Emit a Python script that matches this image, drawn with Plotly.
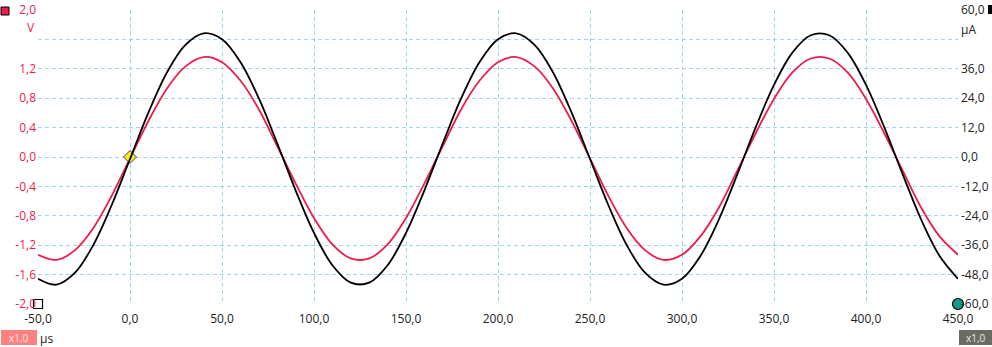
import plotly.graph_objects as go

# time axis (µs)
time_us = [-50, -40, -30, -20, -10, 0, 10, 20, 30, 40, 50, 60, 70, 80, 90, 100,
           110, 120, 130, 140, 150, 160, 170, 180, 190, 200, 210, 220, 230, 240,
           250, 260, 270, 280, 290, 300, 310, 320, 330, 340, 350, 360, 370, 380,
           390, 400, 410, 420, 430, 440, 450]

# voltage channel (V, left axis)
voltage_v = [-1.33, -1.40, -1.27, -0.97, -0.53, -0.02, 0.49, 0.93, 1.23, 1.36,
             1.29, 1.04, 0.65, 0.15, -0.36, -0.83, -1.19, -1.38, -1.38, -1.19,
             -0.83, -0.36, 0.15, 0.65, 1.04, 1.29, 1.36, 1.23, 0.93, 0.49,
             -0.02, -0.53, -0.97, -1.27, -1.40, -1.33, -1.08, -0.69, -0.19, 0.32,
             0.79, 1.15, 1.34, 1.34, 1.15, 0.79, 0.32, -0.19, -0.69, -1.08, -1.33]

# current channel (µA, right axis)
current_ua = [-49.7, -52.1, -47.3, -36.0, -19.7, -0.8, 18.1, 34.4, 45.7, 50.5,
              48.1, 38.8, 24.0, 5.6, -13.6, -31.0, -44.2, -51.3, -51.3, -44.2,
              -31.0, -13.6, 5.6, 24.0, 38.8, 48.1, 50.5, 45.7, 34.4, 18.1,
              -0.8, -19.7, -36.0, -47.3, -52.1, -49.7, -40.4, -25.6, -7.2, 12.0,
              29.4, 42.6, 49.7, 49.7, 42.6, 29.4, 12.0, -7.2, -25.6, -40.4, -49.7]

x_ticks = [-50, 0, 50, 100, 150, 200, 250, 300, 350, 400, 450]
x_labels = ["-50,0", "0,0", "50,0", "100,0", "150,0", "200,0", "250,0",
            "300,0", "350,0", "400,0", "450,0"]
yl_ticks = [-2.0, -1.6, -1.2, -0.8, -0.4, 0.0, 0.4, 0.8, 1.2, 1.6, 2.0]
yl_labels = ["-2,0", "-1,6", "-1,2", "-0,8", "-0,4", "0,0", "0,4", "0,8", "1,2", "", "2,0"]
yr_ticks = [-60, -48, -36, -24, -12, 0, 12, 24, 36, 48, 60]
yr_labels = ["-60,0", "-48,0", "-36,0", "-24,0", "-12,0", "0,0", "12,0", "24,0", "36,0", "", "60,0"]

FONT = "Open Sans"
GRID = "#9fd7ea"
RED = "#ee1c4a"
FS = 12

fig = go.Figure()
fig.add_trace(go.Scatter(x=time_us, y=current_ua, yaxis="y2", mode="lines",
                         line=dict(color="#000000", width=1.8, shape="spline"),
                         showlegend=False, hoverinfo="skip"))
fig.add_trace(go.Scatter(x=time_us, y=voltage_v, mode="lines",
                         line=dict(color=RED, width=1.8, shape="spline"),
                         showlegend=False, hoverinfo="skip"))
# cursor markers
fig.add_trace(go.Scatter(x=[0], y=[0], mode="markers", cliponaxis=False,
                         marker=dict(symbol="diamond", size=10, color="#ffee00",
                                     line=dict(color="#3030c0", width=1)),
                         showlegend=False, hoverinfo="skip"))
fig.add_trace(go.Scatter(x=[-50], y=[-2.0], mode="markers", cliponaxis=False,
                         marker=dict(symbol="square", size=9, color="#ffffff",
                                     line=dict(color="#000000", width=1.2)),
                         showlegend=False, hoverinfo="skip"))
fig.add_trace(go.Scatter(x=[450], y=[-2.0], mode="markers", cliponaxis=False,
                         marker=dict(symbol="circle", size=11, color="#149a8c",
                                     line=dict(color="#000000", width=1.2)),
                         showlegend=False, hoverinfo="skip"))

L, R, T, B = 38, 34, 10, 43
W, H = 992, 347
pw, ph = W - L - R, H - T - B

def px(x):
    return (x - L) / pw

def py(y):
    return (H - B - y) / ph

DASH = "4px,3px"

fig.update_layout(
    width=W, height=H,
    margin=dict(l=L, r=R, t=T, b=B, pad=0, autoexpand=False),
    paper_bgcolor="white", plot_bgcolor="white",
    separators=",.",
    font=dict(family=FONT, size=FS, color="#222222"),
    xaxis=dict(range=[-50, 450], tickvals=x_ticks, ticktext=x_labels,
               showgrid=True, gridcolor=GRID, griddash=DASH, gridwidth=1,
               zeroline=False, showline=False, ticks="", ticklabelstandoff=6,
               automargin=False,
               tickfont=dict(family=FONT, size=FS, color="#222222")),
    yaxis=dict(range=[-2.0, 2.0], tickvals=yl_ticks, ticktext=yl_labels,
               showgrid=True, gridcolor=GRID, griddash=DASH, gridwidth=1,
               zeroline=False, showline=False, ticks="", ticklabelstandoff=1,
               automargin=False,
               tickfont=dict(family=FONT, size=FS, color=RED)),
    yaxis2=dict(range=[-60, 60], tickvals=yr_ticks, ticktext=yr_labels,
                overlaying="y", side="right", showgrid=False,
                zeroline=False, showline=False, ticks="", ticklabelstandoff=2,
                automargin=False,
                tickfont=dict(family=FONT, size=FS, color="#222222")),
    shapes=[
        dict(type="rect", xref="paper", yref="paper",
             x0=px(1), x1=px(9), y0=py(7), y1=py(15),
             fillcolor=RED, line=dict(color="#000000", width=1)),
        dict(type="rect", xref="paper", yref="paper",
             x0=px(988), x1=px(992), y0=py(5), y1=py(14),
             fillcolor="#000000", line=dict(width=0)),
        dict(type="rect", xref="paper", yref="paper",
             x0=px(1), x1=px(37), y0=py(330), y1=py(345),
             fillcolor="#ff8080", line=dict(width=0)),
        dict(type="rect", xref="paper", yref="paper",
             x0=px(959), x1=px(992), y0=py(330), y1=py(345),
             fillcolor="#6b6b63", line=dict(width=0)),
    ],
    annotations=[
        dict(text="V", xref="paper", yref="paper", x=px(37), y=py(28),
             xanchor="right", yanchor="middle", showarrow=False,
             font=dict(family=FONT, size=FS, color=RED)),
        dict(text="µA", xref="paper", yref="paper", x=px(959), y=py(30),
             xanchor="left", yanchor="middle", showarrow=False,
             font=dict(family=FONT, size=FS, color="#222222")),
        dict(text="µs", xref="paper", yref="paper", x=px(38), y=py(338),
             xanchor="left", yanchor="middle", showarrow=False,
             font=dict(family=FONT, size=FS, color="#222222")),
        dict(text="x1,0", xref="paper", yref="paper", x=px(19), y=py(338),
             xanchor="center", yanchor="middle", showarrow=False,
             font=dict(family=FONT, size=10, color="#ffe8e8")),
        dict(text="x1,0", xref="paper", yref="paper", x=px(975.5), y=py(338),
             xanchor="center", yanchor="middle", showarrow=False,
             font=dict(family=FONT, size=10, color="#e8e8e0")),
    ],
)

fig.write_html("out.html")
